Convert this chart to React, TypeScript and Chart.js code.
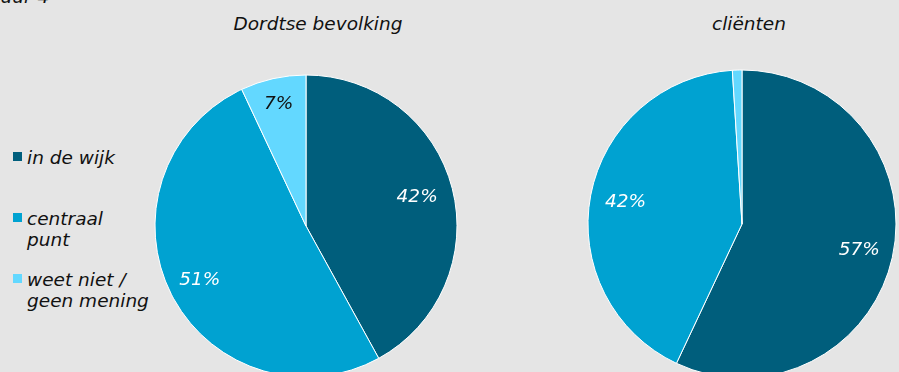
import React, { useEffect, useRef } from "react";
import { Chart, registerables } from "chart.js";

Chart.register(...registerables);

const categories = ["in de wijk", "centraal punt", "weet niet / geen mening"];
const legendLines = [["in de wijk"], ["centraal", "punt"], ["weet niet /", "geen mening"]];
const bevolkingValues = [42, 51, 7];
const clientenValues = [57, 42, 1];
const bevolkingLabels = ["42%", "51%", "7%"];
const clientenLabels = ["57%", "42%", ""];
const titles = ["Dordtse bevolking", "cliënten"];
const figureTitle = "Figuur 4";

const COLORS = ["#005E7C", "#00A2D1", "#63D8FF"];
const LABEL_COLORS = ["#ffffff", "#ffffff", "#111111"];
const FONT = "'DejaVu Sans', Verdana, sans-serif";

const labelPlugin = {
  id: "sliceLabels",
  afterDatasetsDraw(chart: any) {
    const labels: string[] = chart.options.plugins.sliceLabels.labels;
    const fracs: number[] = chart.options.plugins.sliceLabels.fracs;
    const ctx = chart.ctx;
    const meta = chart.getDatasetMeta(0);
    ctx.save();
    ctx.font = "italic 18.5px " + FONT;
    ctx.textAlign = "center";
    ctx.textBaseline = "middle";
    meta.data.forEach((arc: any, i: number) => {
      const txt = labels[i];
      if (!txt) return;
      const p = arc.getProps(["x", "y", "startAngle", "endAngle", "outerRadius"], true);
      const mid = (p.startAngle + p.endAngle) / 2;
      const r = p.outerRadius * fracs[i];
      ctx.fillStyle = LABEL_COLORS[i];
      ctx.fillText(txt, p.x + Math.cos(mid) * r, p.y + Math.sin(mid) * r);
    });
    ctx.restore();
  },
};

function Pie({ values, labels, fracs, radius, left, top, size }: any) {
  const ref = useRef<HTMLCanvasElement>(null);
  useEffect(() => {
    const chart = new Chart(ref.current!, {
      type: "pie",
      data: {
        labels: categories,
        datasets: [
          {
            data: values,
            backgroundColor: COLORS,
            borderColor: "#ffffff",
            borderWidth: 1,
          },
        ],
      },
      options: {
        animation: false,
        responsive: false,
        radius: radius,
        layout: { padding: 0 },
        plugins: {
          legend: { display: false },
          tooltip: { enabled: false },
          sliceLabels: { labels, fracs },
        } as any,
      },
      plugins: [labelPlugin],
    });
    return () => chart.destroy();
  }, []);
  return (
    <canvas
      ref={ref}
      width={size}
      height={size}
      style={{ position: "absolute", left, top, width: size, height: size }}
    />
  );
}

export default function App() {
  const textStyle: React.CSSProperties = {
    position: "absolute",
    fontFamily: FONT,
    fontStyle: "italic",
    fontSize: 18.5,
    lineHeight: "21px",
    color: "#111111",
    whiteSpace: "nowrap",
  };
  const legendTops = [147, 208, 269];
  const squareTops = [152, 213, 274];
  return (
    <div
      style={{
        position: "fixed",
        left: 0,
        top: 0,
        width: 899,
        height: 372,
        overflow: "hidden",
        background: "#E5E5E5",
      }}
    >
      <div style={{ ...textStyle, left: -27, top: -14 }}>{figureTitle}</div>
      <div style={{ ...textStyle, left: 318, top: 13, transform: "translateX(-50%)" }}>{titles[0]}</div>
      <div style={{ ...textStyle, left: 749, top: 13, transform: "translateX(-50%)" }}>{titles[1]}</div>
      {legendLines.map((lines, i) => (
        <React.Fragment key={i}>
          <div
            style={{
              position: "absolute",
              left: 13,
              top: squareTops[i],
              width: 9,
              height: 9,
              background: COLORS[i],
            }}
          />
          <div style={{ ...textStyle, left: 27, top: legendTops[i] }}>
            {lines.map((l, j) => (
              <div key={j}>{l}</div>
            ))}
          </div>
        </React.Fragment>
      ))}
      <Pie values={bevolkingValues} labels={bevolkingLabels} fracs={[0.76, 0.79, 0.83]} radius={151} left={136} top={56} size={340} />
      <Pie values={clientenValues} labels={clientenLabels} fracs={[0.78, 0.77, 0.8]} radius={154} left={572} top={54} size={340} />
    </div>
  );
}
